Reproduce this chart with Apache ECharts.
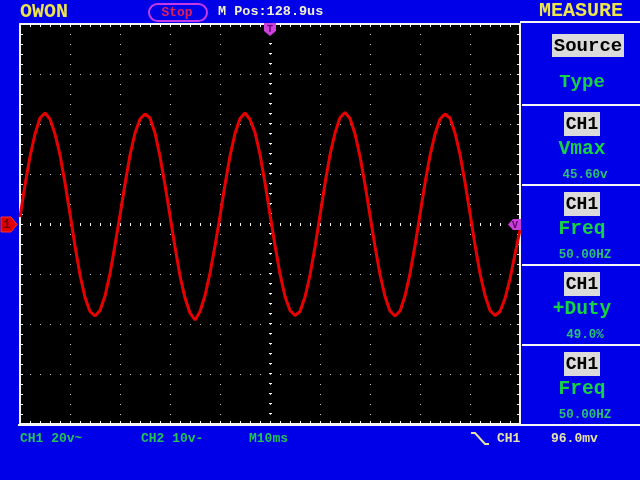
<!DOCTYPE html>
<html>
<head>
<meta charset="utf-8">
<script src="https://cdn.jsdelivr.net/npm/echarts@6.0.0/dist/echarts.min.js"></script>
<style>html,body{margin:0;padding:0;background:#0000e8;}#c{width:640px;height:480px;}</style>
</head>
<body>
<div id="c"></div>
<script>
// ---- data ----
// CH1 trace, one sample per millisecond (10 ms/div, 20 V/div)
const sampleStepMs = 1;
const volts = [
  2.8, 15.6, 27.0, 36.0, 42.4, 44.4, 42.0, 36.0, 27.6, 16.4, 4.0, -8.8, -20.4, -29.4, -35.0, -36.8, -34.6, -28.8, -19.8, -8.4,
  3.6, 16.0, 27.6, 36.4, 42.0, 44.0, 42.4, 36.4, 27.0, 15.6, 3.2, -9.2, -20.8, -29.6, -35.6, -38.4, -35.0, -28.6, -19.6, -8.8,
  3.2, 15.8, 27.2, 36.2, 42.2, 44.4, 41.8, 36.6, 27.8, 16.4, 3.8, -8.6, -20.0, -29.0, -34.6, -36.6, -35.0, -29.2, -20.4, -9.2,
  3.4, 16.2, 27.8, 36.4, 42.6, 44.6, 42.2, 36.0, 27.0, 15.8, 3.4, -9.0, -20.2, -29.0, -34.8, -36.8, -34.8, -28.8, -19.8, -8.6,
  3.8, 16.4, 27.4, 36.0, 42.0, 44.0, 42.4, 36.4, 27.8, 16.6, 4.2, -8.4, -19.8, -28.6, -34.6, -36.6, -35.0, -29.8, -22.0, -12.0,
  -2.4
];
const timeRange = [0, 100];      // ms, 10 divisions
const timeDiv = 10;              // ms per division
const voltRange = [-80, 80];     // V, 8 divisions
const voltDiv = 20;              // V per division

const measureSources = ['CH1', 'CH1', 'CH1', 'CH1'];
const measureTypes = ['Vmax', 'Freq', '+Duty', 'Freq'];
const measureValues = ['45.60v', '50.00HZ', '49.0%', '50.00HZ'];
const bottomLabels = ['CH1 20v~', 'CH2 10v-', 'M10ms'];
const triggerLabels = ['CH1', '96.0mv'];

// ---- build ----
const traceData = volts.map((v, i) => [i * sampleStepMs, v]);

const MONO = '"Liberation Mono", "DejaVu Sans Mono", monospace';
const WHITE = '#f4f4f4';
const GREEN = '#14d444';
const VALGREEN = '#2cc07a';
const YELLOW = '#ece44c';

function axisCommon(extra) {
  return Object.assign({
    type: 'value',
    axisLine: { show: true, onZero: false, lineStyle: { color: WHITE, width: 2 } },
    axisTick: { show: true, inside: true, length: 3, lineStyle: { color: WHITE, width: 1 } },
    minorTick: { show: true, splitNumber: 5, length: 3, lineStyle: { color: WHITE, width: 1 } },
    axisLabel: { show: false },
    splitLine: { show: false },
    minorSplitLine: { show: false }
  }, extra);
}
const dotted = { show: true, lineStyle: { color: '#d0d0d0', width: 1, type: [1, 9] } };

const g = [];
function txt(text, x, y, font, fill, align, z) {
  g.push({ type: 'text', x: x, y: y, z: z || 100, silent: true,
    style: { text: text, font: font, fill: fill, align: align || 'left', verticalAlign: 'middle',
             textAlign: align || 'left', textVerticalAlign: 'middle' } });
}
function line(x1, y1, x2, y2, w, c) {
  g.push({ type: 'line', z: 90, silent: true, shape: { x1: x1, y1: y1, x2: x2, y2: y2 },
    style: { stroke: c || WHITE, lineWidth: w || 2 } });
}

// header
txt('OWON', 20, 12, 'bold 20px ' + MONO, YELLOW);
g.push({ type: 'rect', z: 90, silent: true, shape: { x: 149, y: 4, width: 58, height: 17, r: 8.5 },
  style: { fill: 'none', stroke: '#c43ae6', lineWidth: 2 } });
txt('Stop', 177, 12.5, 'bold 13px ' + MONO, '#e0205a', 'center');
txt('M Pos:128.9us', 218, 12, 'bold 13.5px ' + MONO, '#f2f0d0');
txt('MEASURE', 581, 11, 'bold 20px ' + MONO, YELLOW, 'center');

// right panel separators
line(520, 22, 640, 22);
[105, 185, 265, 345, 425].forEach(y => line(522, y, 640, y));
line(18, 425, 640, 425);

// measure panel
g.push({ type: 'rect', z: 95, silent: true, shape: { x: 552, y: 34, width: 72, height: 23 }, style: { fill: '#dadada' } });
txt('Source', 588, 46, 'bold 19px ' + MONO, '#000', 'center');
txt('Type', 582, 82, 'bold 19px ' + MONO, GREEN, 'center');
measureSources.forEach((s, i) => {
  const o = 80 * i;
  g.push({ type: 'rect', z: 95, silent: true, shape: { x: 564, y: 112 + o, width: 36, height: 24 }, style: { fill: '#dadada' } });
  txt(s, 582, 124.5 + o, 'bold 18px ' + MONO, '#000', 'center');
  txt(measureTypes[i], 582, 149 + o, 'bold 19.5px ' + MONO, GREEN, 'center');
  txt(measureValues[i], 585, 175 + o, 'bold 12.5px ' + MONO, VALGREEN, 'center');
});

// bottom status
txt(bottomLabels[0], 20, 439, 'bold 13px ' + MONO, '#22c458');
txt(bottomLabels[1], 141, 439, 'bold 13px ' + MONO, '#22c458');
txt(bottomLabels[2], 249, 439, 'bold 13px ' + MONO, '#22c458');
g.push({ type: 'polyline', z: 90, silent: true, shape: { points: [[471, 433], [475, 433], [485, 444], [489, 444]] },
  style: { stroke: '#e6e2a8', lineWidth: 2, fill: 'none' } });
txt(triggerLabels[0], 497, 439, 'bold 13px ' + MONO, '#e6e2a8');
txt(triggerLabels[1], 551, 439, 'bold 13px ' + MONO, '#e6e2a8');

// markers
g.push({ type: 'polygon', z: 110, silent: true, shape: { points: [[1, 217], [11, 217], [17, 224.5], [11, 232], [1, 232]] },
  style: { fill: '#e00000', stroke: '#ff3030', lineWidth: 1 } });
txt('1', 7, 225, 'bold 13px ' + MONO, '#700000', 'center', 120);
g.push({ type: 'polygon', z: 110, silent: true, shape: { points: [[264, 23], [276, 23], [276, 31], [270, 36], [264, 31]] },
  style: { fill: '#d040e0' } });
txt('T', 270, 29, 'bold 10px ' + MONO, '#600070', 'center', 120);
g.push({ type: 'polygon', z: 110, silent: true, shape: { points: [[521, 219], [513, 219], [508, 224.5], [513, 230], [521, 230]] },
  style: { fill: '#c840d8' } });
txt('V', 515, 225, 'bold 10px ' + MONO, '#600070', 'center', 120);

const chart = echarts.init(document.getElementById('c'), null, { renderer: 'canvas' });
chart.setOption({
  animation: false,
  backgroundColor: '#0000e8',
  grid: { left: 20, right: 120, top: 24, bottom: 56, show: true, backgroundColor: '#000', borderWidth: 0 },
  xAxis: [
    axisCommon({ position: 'bottom', min: timeRange[0], max: timeRange[1], interval: timeDiv, splitLine: dotted }),
    axisCommon({ position: 'top', min: timeRange[0], max: timeRange[1], interval: timeDiv })
  ],
  yAxis: [
    axisCommon({ position: 'left', min: voltRange[0], max: voltRange[1], interval: voltDiv, splitLine: dotted }),
    axisCommon({ position: 'right', min: voltRange[0], max: voltRange[1], interval: voltDiv })
  ],
  series: [{
    type: 'line',
    xAxisIndex: 0, yAxisIndex: 0,
    data: traceData,
    showSymbol: false,
    symbol: 'none',
    smooth: false,
    silent: true,
    lineStyle: { color: '#e80000', width: 3 },
    z: 10,
    markLine: {
      silent: true,
      symbol: 'none',
      label: { show: false },
      lineStyle: { color: WHITE, width: 3, type: [1, 9], opacity: 1 },
      emphasis: { disabled: true },
      data: [{ yAxis: 0 }, { xAxis: 50 }],
      z: 5
    }
  }],
  graphic: { elements: g }
});
</script>
</body>
</html>
